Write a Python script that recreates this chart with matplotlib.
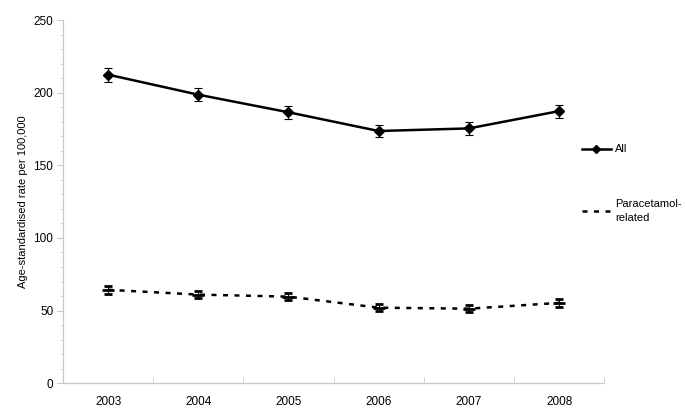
import numpy as np
import matplotlib
matplotlib.use('Agg')
import matplotlib.pyplot as plt
from matplotlib.lines import Line2D
from matplotlib.ticker import MultipleLocator

plt.rcParams['font.family'] = ['Liberation Sans', 'DejaVu Sans']

# data
years = ['2003', '2004', '2005', '2006', '2007', '2008']
all_rate = [212.4, 198.6, 186.5, 173.6, 175.4, 187.3]
all_err = [4.8, 4.6, 4.5, 4.3, 4.3, 4.4]
para_rate = [64.3, 61.0, 59.6, 52.0, 51.3, 55.3]
para_err = [2.7, 2.6, 2.6, 2.4, 2.4, 2.5]

x = np.arange(len(years))

fig = plt.figure(figsize=(6.85, 4.17), dpi=100)
ax = fig.add_axes([0.092, 0.081, 0.79, 0.871])

ax.errorbar(x, all_rate, yerr=all_err, color='black', lw=1.8, marker='D',
            markersize=5, ecolor='black', elinewidth=0.8, capsize=3,
            capthick=0.8)
ax.errorbar(x, para_rate, yerr=para_err, color='black', lw=1.8, marker='_',
            markersize=9, markeredgewidth=2, ecolor='black', elinewidth=0.8,
            capsize=3, capthick=0.8, dashes=(2, 2.6))

ax.set_xlim(-0.5, len(years) - 0.5)
ax.set_ylim(0, 250)
ax.set_xticks(x)
ax.set_xticklabels(years)
ax.set_xticks(np.arange(-0.5, len(years)), minor=True)
ax.yaxis.set_major_locator(MultipleLocator(50))
ax.yaxis.set_minor_locator(MultipleLocator(10))

ax.tick_params(axis='x', which='major', length=0, labelsize=8.5, pad=9)
ax.tick_params(axis='x', which='minor', length=4, color='#c8c8c8', direction='in')
ax.tick_params(axis='y', which='major', length=4, color='#c8c8c8', labelsize=8.5, pad=3)
ax.tick_params(axis='y', which='minor', length=2, color='#c8c8c8')

for s in ['top', 'right']:
    ax.spines[s].set_visible(False)
for s in ['left', 'bottom']:
    ax.spines[s].set_color('#c8c8c8')
    ax.spines[s].set_linewidth(0.9)

ax.set_ylabel('Age-standardised rate per 100,000', fontsize=8, labelpad=4)

handles = [
    Line2D([], [], color='black', lw=1.8, marker='D', markersize=4.5),
    Line2D([], [], color='black', lw=1.8, dashes=(2, 2.6)),
]
labels = ['All', 'Paracetamol-\nrelated']
leg = ax.legend(handles, labels, loc='upper left', bbox_to_anchor=(0.94, 0.685),
                frameon=False, fontsize=8, handlelength=2.6, handletextpad=0.4,
                labelspacing=4.05)
for t in leg.get_texts():
    t.set_linespacing(1.45)

fig.savefig('out.png', dpi=100)
